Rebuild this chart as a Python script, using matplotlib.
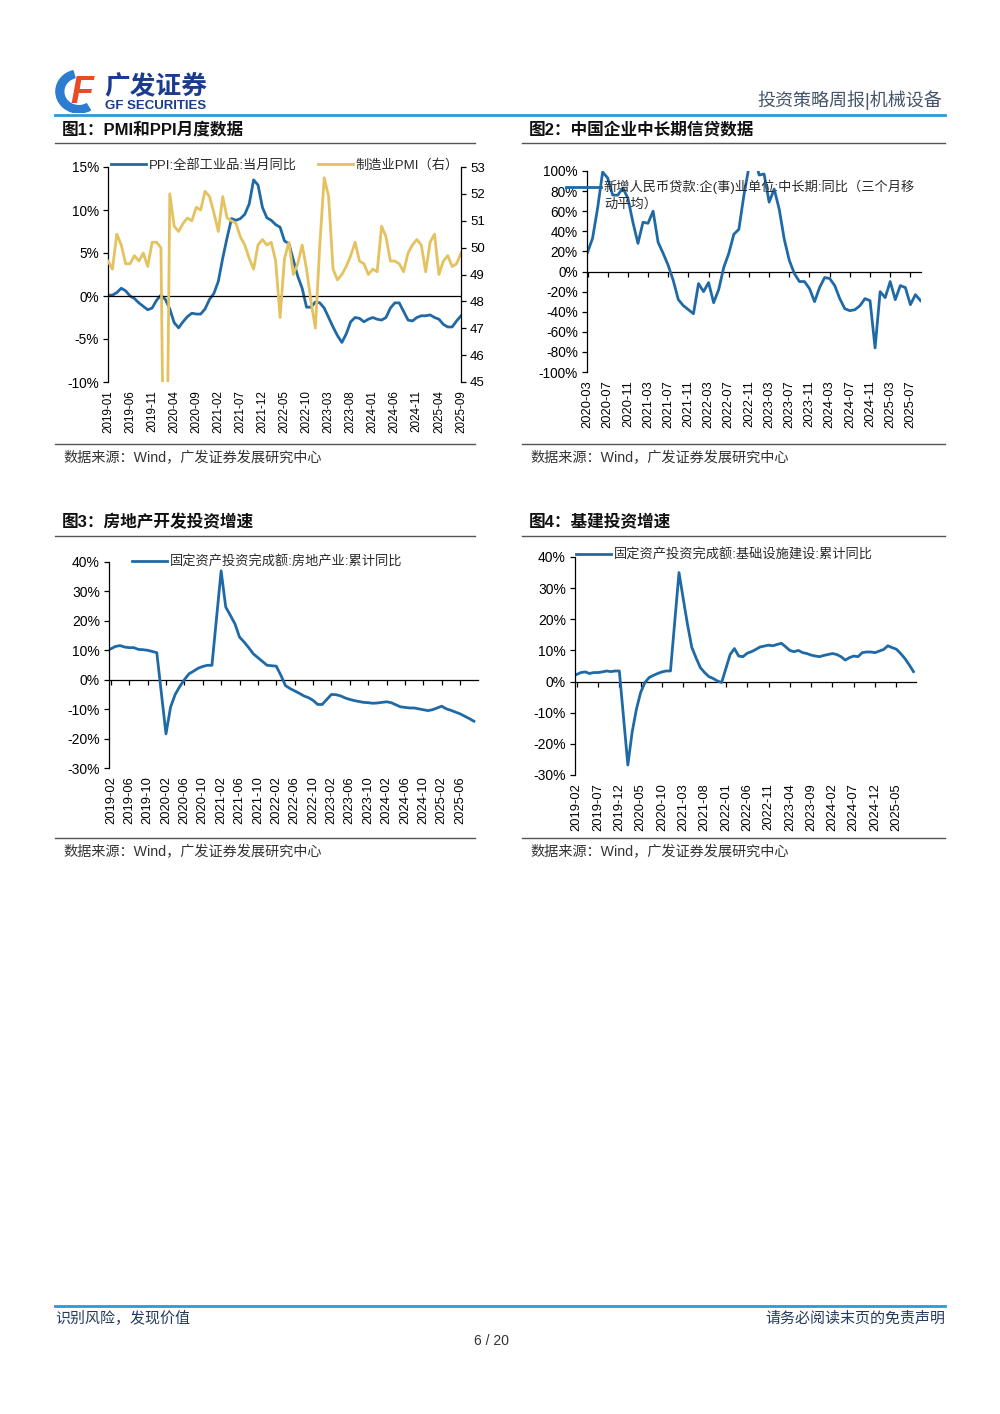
import numpy as np
import pandas as pd
import matplotlib
matplotlib.use('Agg')
import matplotlib.pyplot as plt
from matplotlib.patches import Wedge
from matplotlib.ticker import FuncFormatter

plt.rcParams['font.family'] = ['Liberation Sans', 'Noto Sans CJK SC', 'DejaVu Sans']
plt.rcParams['axes.unicode_minus'] = False

BLUE = '#1F6AA6'
GOLD = '#E3C25F'
HEAD = '#2B9AD6'
NAVY = '#1B3C8E'

# ---------------- data ----------------
# 图1: monthly, 2019-01 .. 2025-09
ppi_months = [p.strftime('%Y-%m') for p in pd.period_range('2019-01', '2025-09', freq='M')]
ppi = [0.1, 0.1, 0.4, 0.9, 0.6, 0.0, -0.3, -0.8, -1.2, -1.6, -1.4, -0.5,
       0.1, -0.4, -1.5, -3.1, -3.7, -3.0, -2.4, -2.0, -2.1, -2.1, -1.5, -0.4,
       0.3, 1.7, 4.4, 6.8, 9.0, 8.8, 9.0, 9.5, 10.7, 13.5, 12.9, 10.3,
       9.1, 8.8, 8.3, 8.0, 6.4, 6.1, 4.2, 2.3, 0.9, -1.3, -1.3, -0.7,
       -0.8, -1.4, -2.5, -3.6, -4.6, -5.4, -4.4, -3.0, -2.5, -2.6, -3.0, -2.7,
       -2.5, -2.7, -2.8, -2.5, -1.4, -0.8, -0.8, -1.8, -2.8, -2.9, -2.5, -2.3,
       -2.3, -2.2, -2.5, -2.7, -3.3, -3.6, -3.6, -2.9, -2.3]
pmi = [49.5, 49.2, 50.5, 50.1, 49.4, 49.4, 49.7, 49.5, 49.8, 49.3, 50.2, 50.2,
       50.0, 35.7, 52.0, 50.8, 50.6, 50.9, 51.1, 51.0, 51.5, 51.4, 52.1, 51.9,
       51.3, 50.6, 51.9, 51.1, 51.0, 50.9, 50.4, 50.1, 49.6, 49.2, 50.1, 50.3,
       50.1, 50.2, 49.5, 47.4, 49.6, 50.2, 49.0, 49.4, 50.1, 49.2, 48.0, 47.0,
       50.1, 52.6, 51.9, 49.2, 48.8, 49.0, 49.3, 49.7, 50.2, 49.5, 49.4, 49.0,
       49.2, 49.1, 50.8, 50.4, 49.5, 49.5, 49.4, 49.1, 49.8, 50.1, 50.3, 50.1,
       49.1, 50.2, 50.5, 49.0, 49.5, 49.7, 49.3, 49.4, 49.8]

# 图2: monthly, 2020-03 .. 2025-09
loan_months = [p.strftime('%Y-%m') for p in pd.period_range('2020-03', '2025-09', freq='M')]
loan_yoy = [19, 33, 63, 99, 93, 76, 76, 83, 73, 49, 28, 49, 48, 60, 29, 18, 6, -9,
            -28, -34, -38, -42, -12, -20, -11, -31, -18, 4, 18, 37, 42, 76, 104, 120,
            96, 97, 69, 82, 62, 32, 11, -2, -10, -10, -17, -30, -16, -6, -7, -14,
            -27, -37, -39, -38, -34, -27, -29, -76, -20, -26, -10, -28, -14, -16,
            -33, -23, -29]

# 图3 / 图4: cumulative yoy, no January print
fai_periods = [p for p in pd.period_range('2019-02', '2025-09', freq='M') if p.month != 1]
realestate = [10.5, 11.3, 11.6, 11.1, 10.9, 10.9, 10.3, 10.2, 10.0, 9.6, 9.2,
              -18.4, -9.3, -5.0, -2.3, 0.0, 2.0, 2.9, 3.9, 4.5, 4.9, 4.9,
              37.0, 24.7, 21.9, 19.0, 14.5, 12.8, 10.9, 8.8, 7.5, 6.2, 4.9,
              4.6, 1.5, -2.0, -3.0, -3.8, -4.6, -5.5, -6.1, -7.0, -8.4, -8.4,
              -5.0, -5.1, -5.5, -6.2, -6.7, -7.1, -7.4, -7.7, -7.8, -8.0, -7.9,
              -7.5, -7.8, -8.5, -9.2, -9.4, -9.6, -9.6, -9.9, -10.2, -10.5, -10.2,
              -9.0, -9.9, -10.4, -11.0, -11.6, -12.4, -13.2, -14.1]
infra = [2.3, 2.9, 3.1, 2.6, 2.9, 2.9, 3.1, 3.4, 3.2, 3.4, 3.4,
         -26.8, -16.3, -8.9, -3.5, -0.3, 1.3, 2.0, 2.6, 3.1, 3.4, 3.4,
         35.0, 26.5, 18.3, 11.0, 7.6, 4.5, 2.9, 1.6, 1.0, 0.2, -0.3,
         8.7, 10.6, 8.2, 8.0, 9.1, 9.6, 10.3, 11.1, 11.4, 11.7, 11.5,
         12.3, 11.2, 10.0, 9.6, 10.0, 9.3, 9.0, 8.5, 8.2, 8.0, 8.4,
         9.0, 8.7, 8.0, 6.9, 7.7, 8.2, 8.0, 9.3, 9.5, 9.5, 9.3,
         10.3, 11.5, 10.9, 10.4, 9.0, 7.4, 5.4, 3.2]

# ---------------- page helpers ----------------
W, H = 1000, 1414
fig = plt.figure(figsize=(W / 100, H / 100), dpi=100)


def box(l, t, r, b):
    return [l / W, 1 - b / H, (r - l) / W, (b - t) / H]


def fline(x0, x1, y, color, lw):
    fig.add_artist(plt.Line2D([x0 / W, x1 / W], [1 - y / H, 1 - y / H],
                              color=color, lw=lw, transform=fig.transFigure))


def ftext(x, y, s, **kw):
    kw.setdefault('va', 'center')
    fig.text(x / W, 1 - y / H, s, **kw)


def style(ax, ymin, ymax, step, fs):
    ax.set_ylim(ymin, ymax)
    ax.set_yticks(np.arange(ymin, ymax + step / 2, step))
    ax.yaxis.set_major_formatter(FuncFormatter(lambda v, _: f'{v:.0f}%'))
    for s in ['top', 'right', 'bottom']:
        ax.spines[s].set_visible(False)
    ax.spines['left'].set_linewidth(0.9)
    ax.tick_params(axis='y', length=3.5, width=0.9, labelsize=fs, pad=3)
    ax.tick_params(axis='x', length=0, labelrotation=90, pad=6)
    ax.patch.set_alpha(0)


def zero_axis(ax, ticks):
    # horizontal axis line crossing at 0, ticks hanging below it
    ymin, ymax = ax.get_ylim()
    sec = ax.secondary_xaxis((0 - ymin) / (ymax - ymin))
    sec.set_alignment('bottom')
    sec.set_xticks(ticks)
    sec.tick_params(length=3.5, width=0.9, labelbottom=False, labeltop=False)
    sec.spines['bottom'].set_linewidth(0.9)


def legend(ax, handles, labels, x, y, ncol=1, colsp=1.8):
    ax.legend(handles, labels, loc='upper left', bbox_to_anchor=(x / W, 1 - y / H),
              bbox_transform=fig.transFigure, frameon=False, fontsize=9.5,
              borderaxespad=0, borderpad=0, handlelength=2.65, handletextpad=0.2,
              ncol=ncol, columnspacing=colsp, labelcolor='#2a2a2a')


# ---------------- header / footer ----------------
logo = fig.add_axes(box(55, 70, 101, 113))
logo.set_xlim(0, 1)
logo.set_ylim(0, 1)
logo.axis('off')
logo.add_patch(Wedge((0.52, 0.5), 0.5, 105, 300, width=0.17, color='#2C7CD1'))
logo.text(0.58, 0.47, 'F', fontsize=27, fontweight='bold', style='italic',
          color='#EB4A26', ha='center', va='center')
ftext(104, 86, '广发证券', fontsize=18.5, fontweight='bold', color=NAVY)
ftext(105, 106, 'GF SECURITIES', fontsize=9.5, fontweight='bold', color=NAVY)
ftext(942, 100, '投资策略周报|机械设备', fontsize=13, color='#44546A', ha='right')
fline(55, 945, 115, HEAD, 2)

fline(55, 945, 1306, HEAD, 2)
ftext(55, 1319, '识别风险，发现价值', fontsize=10.8, color='#223A5E')
ftext(945, 1319, '请务必阅读末页的免责声明', fontsize=10.8, color='#223A5E', ha='right')
ftext(492, 1341, '6 / 20', fontsize=10, color='#333333', ha='center')

# panel titles, rules and sources
for xl, xr, ty, src_y, title in [(55, 475, 129, 444, '图1：PMI和PPI月度数据'),
                                 (522, 945, 129, 444, '图2：中国企业中长期信贷数据'),
                                 (55, 475, 522, 838, '图3：房地产开发投资增速'),
                                 (522, 945, 522, 838, '图4：基建投资增速')]:
    ftext(xl + 7, ty, title, fontsize=12, fontweight='bold', color='#111111')
    fline(xl, xr, ty + 14, '#555555', 1)
    fline(xl, xr, src_y, '#555555', 1)
    ftext(xl + 8, src_y + 14, '数据来源：Wind，广发证券发展研究中心', fontsize=10.2, color='#333333')

# ---------------- 图1 ----------------
ax1 = fig.add_axes(box(108, 167, 461, 382))
x1 = np.arange(len(ppi_months))
l1, = ax1.plot(x1, ppi, color=BLUE, lw=2)
ax1.axhline(0, color='black', lw=0.9)
style(ax1, -10, 15, 5, 9.8)
ax1.set_xlim(0, len(ppi_months) - 1)
ax1.set_xticks(x1[::5], [ppi_months[i] for i in x1[::5]], fontsize=8.4)

ax1r = ax1.twinx()
l2, = ax1r.plot(x1, pmi, color=GOLD, lw=2)
ax1r.set_ylim(45, 53)
ax1r.set_yticks(range(45, 54))
for s in ['top', 'left', 'bottom']:
    ax1r.spines[s].set_visible(False)
ax1r.spines['right'].set_linewidth(0.9)
ax1r.tick_params(axis='y', length=3.5, width=0.9, labelsize=9.5, pad=3)
legend(ax1r, [l1, l2], ['PPI:全部工业品:当月同比', '制造业PMI（右）'], 111, 159, ncol=2, colsp=1.6)

# ---------------- 图2 ----------------
ax2 = fig.add_axes(box(587, 171, 921, 372))
x2 = np.arange(len(loan_months))
l3, = ax2.plot(x2, loan_yoy, color=BLUE, lw=2)
style(ax2, -100, 100, 20, 9.8)
ax2.set_xlim(-0.1, len(loan_months) - 0.9)
ax2.set_xticks(x2[::4], [loan_months[i] for i in x2[::4]], fontsize=9.3)
zero_axis(ax2, x2[::4])
legend(ax2, [l3], ['新增人民币贷款:企(事)业单位:中长期:同比（三个月移'], 566, 180)
ftext(604, 204, '动平均）', fontsize=9.5, color='#2a2a2a')

# ---------------- 图3 / 图4 ----------------
start = fai_periods[0]
fai_x = [(p - start).n for p in fai_periods]
all_months = [p.strftime('%Y-%m') for p in pd.period_range('2019-02', '2025-09', freq='M')]

ax3 = fig.add_axes(box(109, 562, 478, 768))
l4, = ax3.plot(fai_x, realestate, color=BLUE, lw=2)
style(ax3, -30, 40, 10, 10)
ax3.set_xlim(-0.4, 79.9)
t3 = list(range(0, 80, 4))
ax3.set_xticks(t3, [all_months[i] for i in t3], fontsize=9.3)
zero_axis(ax3, t3)
legend(ax3, [l4], ['固定资产投资完成额:房地产业:累计同比'], 132, 556)

ax4 = fig.add_axes(box(575, 557, 916, 775))
l5, = ax4.plot(fai_x, infra, color=BLUE, lw=2)
style(ax4, -30, 40, 10, 10)
ax4.set_xlim(-0.4, 79.6)
t4 = list(range(0, 80, 5))
ax4.set_xticks(t4, [all_months[i] for i in t4], fontsize=9.3)
zero_axis(ax4, t4)
legend(ax4, [l5], ['固定资产投资完成额:基础设施建设:累计同比'], 576, 549)

fig.savefig('out.png', dpi=100)
